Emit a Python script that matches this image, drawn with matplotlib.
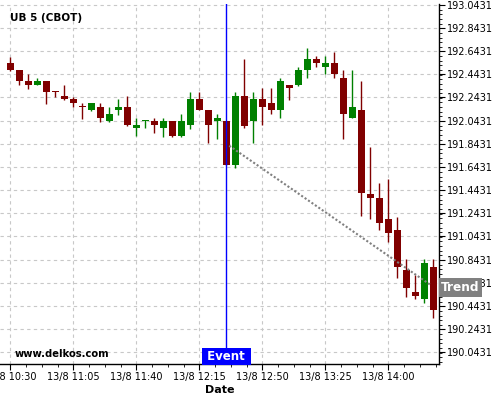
import matplotlib
matplotlib.use("Agg")
import matplotlib.pyplot as plt
import matplotlib.transforms as mtransforms
from matplotlib.ticker import FixedLocator, MultipleLocator

plt.rcParams['font.family'] = ['DejaVu Sans']

title = "UB 5 (CBOT)"
watermark = "www.delkos.com"

# 5 minute candles starting 13/8 10:30
opens = [192.543, 192.480, 192.385, 192.353, 192.385, 192.301, 192.255, 192.229,
         192.169, 192.134, 192.160, 192.039, 192.134, 192.160, 191.982, 192.042,
         192.039, 191.979, 192.039, 191.910, 192.005, 192.227, 192.134, 192.042,
         192.039, 191.662, 192.255, 192.042, 192.229, 192.195, 192.134, 192.350,
         192.350, 192.482, 192.574, 192.508, 192.540, 192.410, 192.068, 192.134,
         191.409, 191.372, 191.194, 191.099, 190.753, 190.564, 190.506, 190.782]
highs = [192.594, 192.480, 192.445, 192.408, 192.385, 192.301, 192.347, 192.249,
         192.192, 192.195, 192.192, 192.158, 192.229, 192.253, 192.063, 192.045,
         192.063, 192.063, 192.039, 192.097, 192.287, 192.287, 192.134, 192.097,
         192.039, 192.287, 192.572, 192.287, 192.322, 192.322, 192.408, 192.350,
         192.503, 192.667, 192.600, 192.600, 192.632, 192.477, 192.477, 192.385,
         191.812, 191.504, 191.536, 191.213, 190.846, 190.710, 190.846, 190.846]
lows = [192.471, 192.347, 192.318, 192.347, 192.189, 192.249, 192.223, 192.158,
        192.059, 192.128, 192.031, 192.028, 192.091, 191.996, 191.910, 191.976,
        191.938, 191.904, 191.904, 191.904, 191.973, 192.134, 191.847, 191.881,
        191.662, 191.631, 191.976, 191.847, 192.002, 192.100, 192.063, 192.223,
        192.344, 192.408, 192.503, 192.442, 192.408, 191.881, 192.063, 191.219,
        191.191, 191.099, 190.992, 190.682, 190.523, 190.501, 190.466, 190.337]
closes = [192.480, 192.387, 192.353, 192.385, 192.292, 192.292, 192.229, 192.197,
          192.160, 192.195, 192.068, 192.100, 192.160, 192.005, 192.005, 192.045,
          192.005, 192.039, 191.910, 192.039, 192.229, 192.134, 192.007, 192.065,
          191.662, 192.255, 191.996, 192.227, 192.160, 192.134, 192.385, 192.324,
          192.477, 192.574, 192.543, 192.540, 192.448, 192.100, 192.160, 191.415,
          191.377, 191.162, 191.070, 190.782, 190.601, 190.532, 190.811, 190.408]

x_tick_pos = [0, 7, 14, 21, 28, 35, 42]
x_tick_labels = ["13/8 10:30", "13/8 11:05", "13/8 11:40", "13/8 12:15",
                 "13/8 12:50", "13/8 13:25", "13/8 14:00"]
y_ticks = [190.0431, 190.2431, 190.4431, 190.6431, 190.8431, 191.0431, 191.2431,
           191.4431, 191.6431, 191.8431, 192.0431, 192.2431, 192.4431, 192.6431,
           192.8431, 193.0431]

event_idx = 24
trend_x = [24.33, 46.7]
trend_y = [191.826, 190.624]
trend_value = 190.602

up_col = '#008000'
down_col = '#800000'

fig = plt.figure(figsize=(5, 4), dpi=100)
ax = fig.add_axes([0, 0.09, 0.878, 0.9])

for i in range(len(opens)):
    o, h, l, c = opens[i], highs[i], lows[i], closes[i]
    col = up_col if c >= o else down_col
    ax.vlines(i, l, h, color=col, linewidth=1, zorder=2)
    ax.bar(i, max(abs(c - o), 0.01), bottom=min(o, c), width=0.78,
           color=col, linewidth=0, zorder=3)

# trend from event
ax.plot(trend_x, trend_y, linestyle=(0, (1, 1)), color='#808080', linewidth=1.5, zorder=4)

ax.axvline(event_idx, color='blue', linewidth=1, zorder=5)

ax.set_xlim(-1.144, 47.63)
ax.set_ylim(189.942, 193.05)

ax.xaxis.set_major_locator(FixedLocator(x_tick_pos))
ax.set_xticklabels(x_tick_labels)
ax.xaxis.set_minor_locator(MultipleLocator(1.75))
ax.yaxis.tick_right()
ax.yaxis.set_major_locator(FixedLocator(y_ticks))
ax.set_yticklabels([f"{v:.4f}" for v in y_ticks])
ax.yaxis.set_minor_locator(MultipleLocator(0.04))

ax.tick_params(axis='both', which='major', length=4, labelsize=7, pad=1.5, colors='black')
ax.tick_params(axis='both', which='minor', length=2)

for s in ['left', 'top']:
    ax.spines[s].set_visible(False)
for s in ['right', 'bottom']:
    ax.spines[s].set_linewidth(1)
    ax.spines[s].set_color('black')

ax.set_axisbelow(True)
ax.grid(True, which='major', color='#c8c8c8', linestyle=(0, (3, 3)), linewidth=0.8)

ax.set_xlabel("Date", fontsize=8, fontweight='bold', labelpad=2.5)

ax.text(0.023, 0.962, title, transform=ax.transAxes, fontsize=7.5,
        fontweight='bold', va='center', ha='left')
ax.text(0.034, 0.029, watermark, transform=ax.transAxes, fontsize=7.2,
        fontweight='bold', va='center', ha='left')

# event label at the bottom
ev_tr = mtransforms.blended_transform_factory(ax.transData, ax.transAxes)
ax.text(event_idx, 0.003, " Event ", transform=ev_tr, fontsize=8.5, fontweight='bold',
        color='white', ha='center', va='bottom', zorder=6,
        bbox=dict(boxstyle='square,pad=0.15', facecolor='#0000ff', edgecolor='none'))

# trend label on the price axis
tr_tr = mtransforms.blended_transform_factory(ax.transAxes, ax.transData)
ax.text(1.005, trend_value, "Trend", transform=tr_tr, fontsize=8.7, fontweight='bold',
        color='white', ha='left', va='center', zorder=6, clip_on=False,
        bbox=dict(boxstyle='square,pad=0.22', facecolor='#808080', edgecolor='none'))

fig.savefig("out.png", dpi=100)
